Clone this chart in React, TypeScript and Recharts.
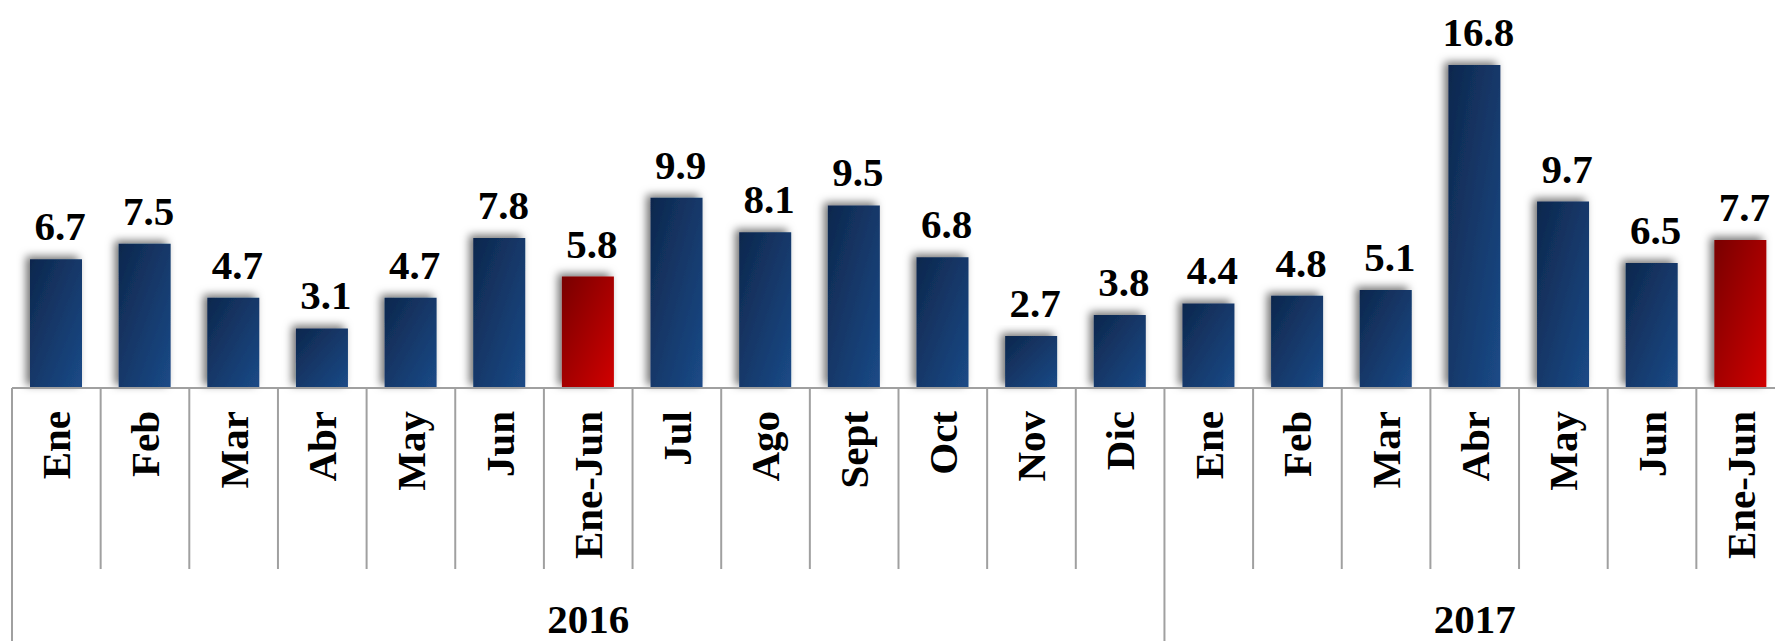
import React from "react";
import { BarChart, Bar, XAxis, YAxis, Cell, LabelList } from "recharts";

const months = ["Ene", "Feb", "Mar", "Abr", "May", "Jun", "Ene-Jun", "Jul", "Ago", "Sept", "Oct", "Nov", "Dic", "Ene", "Feb", "Mar", "Abr", "May", "Jun", "Ene-Jun"];
const years = ["2016", "2016", "2016", "2016", "2016", "2016", "2016", "2016", "2016", "2016", "2016", "2016", "2016", "2017", "2017", "2017", "2017", "2017", "2017", "2017"];
const values = [6.7, 7.5, 4.7, 3.1, 4.7, 7.8, 5.8, 9.9, 8.1, 9.5, 6.8, 2.7, 3.8, 4.4, 4.8, 5.1, 16.8, 9.7, 6.5, 7.7];
const highlighted = [false, false, false, false, false, false, true, false, false, false, false, false, false, false, false, false, false, false, false, true];
const yearLabels = ["2016", "2017"];

const data = months.map((m, i) => ({
  key: `${years[i]}-${i}`,
  month: m,
  year: years[i],
  value: values[i],
  hl: highlighted[i],
}));

const CHART_W = 1800;
const CHART_H = 641;
const MARGIN = { top: 42, right: 15, bottom: 0, left: 12 };
const AXIS_H = 253;
const PLOT_W = CHART_W - MARGIN.left - MARGIN.right;
const BAND = PLOT_W / data.length;
const FONT = "Liberation Serif";

const groupStart = (i: number) => i === 0 || years[i] !== years[i - 1];
const groupCenterIndex = (y: string) => {
  const idx = years.map((v, i) => (v === y ? i : -1)).filter((v) => v >= 0);
  return idx[Math.floor((idx.length - 1) / 2)];
};
const centers = yearLabels.map((y) => groupCenterIndex(y));

const Tick = (props: any) => {
  const { x, y, index } = props;
  const left = x - BAND / 2;
  const isGroup = groupStart(index);
  const yi = centers.indexOf(index);
  const even = years.filter((v) => v === years[index]).length % 2 === 0;
  return (
    <g>
      <line x1={left} y1={y} x2={left} y2={isGroup ? y + AXIS_H : y + 181} stroke="#a0a0a0" strokeWidth={2} />
      <text
        x={x}
        y={y + 23}
        transform={`rotate(-90, ${x}, ${y + 23})`}
        textAnchor="end"
        dy="0.34em"
        fontFamily={FONT}
        fontWeight="bold"
        fontSize={41}
        fill="#000"
      >
        {months[index]}
      </text>
      {yi >= 0 && (
        <text
          x={even ? x + BAND / 2 : x}
          y={y + 245}
          textAnchor="middle"
          fontFamily={FONT}
          fontWeight="bold"
          fontSize={41}
          fill="#000"
        >
          {yearLabels[yi]}
        </text>
      )}
    </g>
  );
};

export default function App() {
  return (
    <div style={{ position: "fixed", left: 0, top: 0, width: 1775, height: 641, overflow: "hidden", background: "#fff" }}>
      <BarChart width={CHART_W} height={CHART_H} data={data} margin={MARGIN}>
        <defs>
          <linearGradient id="gBlue" x1="0" y1="0" x2="1" y2="1">
            <stop offset="0%" stopColor="#0e274d" />
            <stop offset="100%" stopColor="#1b4a87" />
          </linearGradient>
          <linearGradient id="gRed" x1="0" y1="0" x2="1" y2="1">
            <stop offset="0%" stopColor="#780000" />
            <stop offset="100%" stopColor="#d10000" />
          </linearGradient>
          <filter id="shadow" x="-40%" y="-20%" width="170%" height="140%">
            <feDropShadow dx="-4" dy="-3" stdDeviation="4" floodColor="#000" floodOpacity="0.55" />
          </filter>
        </defs>
        <YAxis hide domain={[0, 18]} />
        <XAxis
          dataKey="key"
          height={AXIS_H}
          interval={0}
          tickLine={false}
          tickSize={0}
          tickMargin={0}
          axisLine={{ stroke: "#a0a0a0", strokeWidth: 2 }}
          tick={<Tick />}
        />
        <Bar dataKey="value" barSize={52} isAnimationActive={false} filter="url(#shadow)">
          {data.map((d, i) => (
            <Cell key={i} fill={d.hl ? "url(#gRed)" : "url(#gBlue)"} />
          ))}
          <LabelList
            dataKey="value"
            position="top"
            offset={19}
            dx={4}
            formatter={(v: any) => Number(v).toFixed(1)}
            fontFamily={FONT}
            fontWeight="bold"
            fontSize={41}
            fill="#000"
          />
        </Bar>
      </BarChart>
    </div>
  );
}
